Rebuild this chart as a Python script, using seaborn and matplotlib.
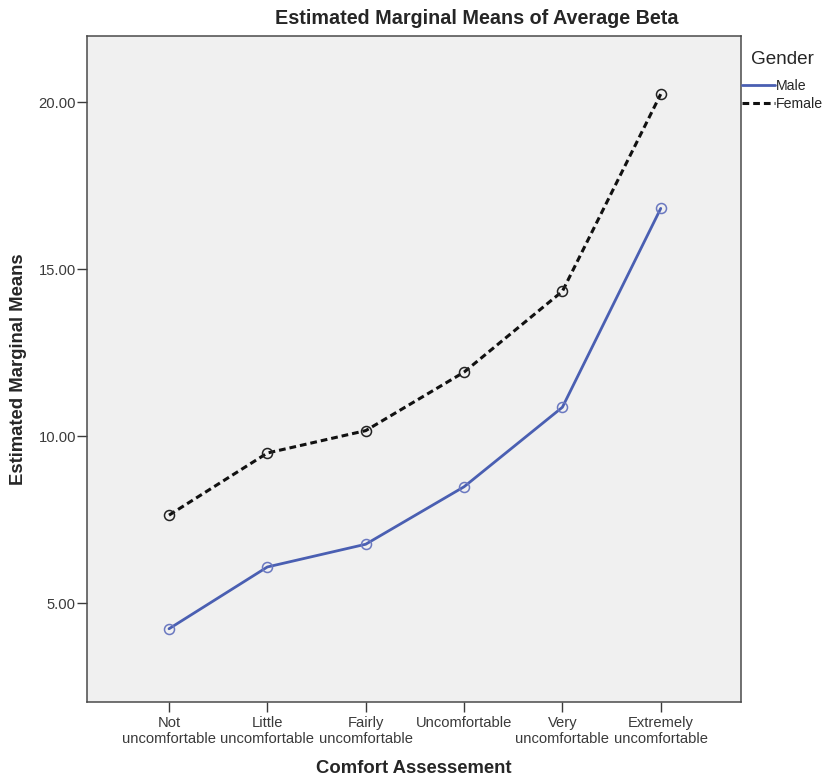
import matplotlib
matplotlib.use("Agg")
import matplotlib.pyplot as plt
from matplotlib.lines import Line2D
import numpy as np
import pandas as pd
import seaborn as sns

# Comfort levels on the x axis
categories = [
    "Not\nuncomfortable",
    "Little\nuncomfortable",
    "Fairly\nuncomfortable",
    "Uncomfortable",
    "Very\nuncomfortable",
    "Extremely\nuncomfortable",
]
# Estimated marginal means of average beta by gender
male_means = [4.24, 6.09, 6.77, 8.49, 10.87, 16.82]
female_means = [7.64, 9.50, 10.17, 11.92, 14.34, 20.24]
genders = ["Male", "Female"]
y_ticks = [5.0, 10.0, 15.0, 20.0]

df = pd.DataFrame({
    "level": list(range(len(categories))) * 2,
    "mean": male_means + female_means,
    "Gender": ["Male"] * len(categories) + ["Female"] * len(categories),
})

sns.set_theme(style="white")
plt.rcParams["font.family"] = ["Liberation Sans", "DejaVu Sans"]

male_color = "#4a5fb2"
female_color = "#111111"
colors = {"Male": male_color, "Female": female_color}
edge_colors = {"Male": "#6a78c0", "Female": "#222222"}
styles = {"Male": "-", "Female": (0, (2.2, 1.3))}

fig = plt.figure(figsize=(8.27, 7.79), dpi=100)
ax = fig.add_axes([0.1052, 0.0989, 0.7908, 0.8549])
ax.set_facecolor("#f0f0f0")

for g in genders:
    sub = df[df["Gender"] == g]
    sns.lineplot(
        data=sub, x="level", y="mean", ax=ax,
        color=colors[g], linewidth=2.0 if g == "Male" else 2.2,
        linestyle=styles[g], marker="o", markersize=7.2,
        markerfacecolor="none", markeredgecolor=edge_colors[g],
        markeredgewidth=1.1, legend=False,
    )

ax.set_xlim(-0.834, 5.816)
ax.set_ylim(2.05, 21.98)
ax.set_xticks(range(len(categories)))
ax.set_xticklabels(categories, fontsize=10.6, color="#3a3a3a", linespacing=1.2)
ax.set_yticks(y_ticks)
ax.set_yticklabels([f"{v:.2f}" for v in y_ticks], fontsize=10.6, color="#3a3a3a")
ax.tick_params(axis="both", direction="out", length=7.0, width=1.0,
               color="#3a3a3a", pad=1, bottom=True, left=True)
ax.tick_params(axis="x", pad=3)

for spine in ax.spines.values():
    spine.set_color("#4a4a4a")
    spine.set_linewidth(1.1)

ax.set_xlabel("Comfort Assessement", fontsize=13.3, fontweight="bold", labelpad=10)
ax.set_ylabel("Estimated Marginal Means", fontsize=13.3, fontweight="bold", labelpad=8)
ax.set_title("Estimated Marginal Means of Average Beta", fontsize=14.2,
             fontweight="bold", pad=8.5, x=0.596)

handles = [
    Line2D([], [], color=male_color, linewidth=2.0, linestyle="-"),
    Line2D([], [], color=female_color, linewidth=2.2, linestyle=(0, (2.2, 1.3))),
]
leg = ax.legend(
    handles, genders, title="Gender", loc="upper left",
    bbox_to_anchor=(742 / 827, 1 - 51 / 779), bbox_transform=fig.transFigure,
    frameon=False, fontsize=10.2, title_fontsize=13.6, borderpad=0,
    borderaxespad=0, handlelength=2.3, handletextpad=0.12, labelspacing=0.3,
)
leg._legend_box.sep = 8

fig.savefig("out.png", dpi=100)
